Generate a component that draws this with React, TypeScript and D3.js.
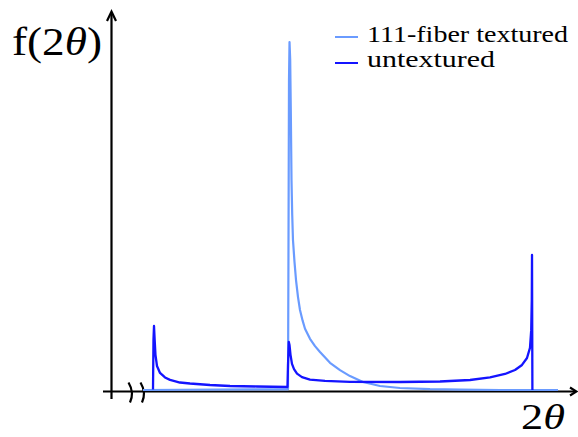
import React from "react";
import * as d3 from "d3";

const W = 578;
const H = 437;

// 2θ (arbitrary units, 0..100 along axis) and f(2θ) (arbitrary, 0..100)
const texturedX = [8.44, 39.03, 39.13, 39.24, 39.35, 39.49, 39.62, 39.77, 39.92, 40.08, 40.4, 40.72, 41.14, 41.56, 42.1, 42.62, 43.67, 44.73, 45.78, 47.89, 50.0, 52.11, 54.85, 58.44, 62.66, 68.99, 75.32, 83.76, 95.99];
const texturedY = [0, 0.2, 40, 89, 100, 95, 80.5, 60.3, 50.3, 43.1, 36.8, 31.6, 26.7, 23.0, 20.0, 17.6, 14.7, 12.6, 10.9, 7.8, 5.7, 4.0, 2.3, 1.15, 0.57, 0.23, 0.09, 0, 0];

const untexturedX = [10.55, 10.65, 10.76, 10.9, 11.07, 11.39, 12.03, 13.08, 14.14, 16.24, 18.35, 22.57, 26.79, 32.49, 38.92, 39.03, 39.2, 39.35, 39.56, 39.87, 40.3, 40.93, 41.98, 43.67, 46.84, 52.11, 62.66, 71.1, 77.43, 81.65, 84.81, 86.92, 88.4, 89.45, 90.08, 90.34, 90.46, 90.51, 90.59];
const untexturedY = [0.15, 14.4, 18.4, 14.4, 10.1, 6.9, 4.9, 3.6, 2.9, 2.15, 1.87, 1.44, 1.15, 1.0, 0.86, 7.2, 13.8, 12.9, 10.1, 7.5, 6.0, 4.7, 3.7, 3.0, 2.6, 2.36, 2.3, 2.44, 2.87, 3.6, 4.6, 5.75, 7.2, 9.2, 12.1, 17.2, 25.9, 38.8, 0];

const seriesNames = ["111-fiber textured", "untextured"];
const seriesColors = ["#6a9bff", "#1414ff"];

const SERIF = "'Liberation Serif', 'Times New Roman', Times, 'Nimbus Roman', serif";

export default function App() {
  const x = d3.scaleLinear().domain([0, 100]).range([103, 577]);
  const y = d3.scaleLinear().domain([0, 100]).range([390, 42]);

  const line = d3
    .line<[number, number]>()
    .x((d) => x(d[0]))
    .y((d) => y(d[1]));

  const tex: [number, number][] = texturedX.map((v, i) => [v, texturedY[i]]);
  const unt: [number, number][] = untexturedX.map((v, i) => [v, untexturedY[i]]);

  const axisY = 391.5;
  const axisX = 111.5;

  const breakPath = (bx: number) =>
    `M${bx - 2.5},${axisY - 9} Q${bx + 3.5},${axisY + 1} ${bx - 1},${axisY + 11}`;

  return (
    <svg
      width={W}
      height={H}
      style={{ position: "absolute", left: 0, top: 0, background: "#fff" }}
    >
      <rect x={0} y={0} width={W} height={H} fill="#fff" />
      {/* axes */}
      <g stroke="#000" strokeWidth={2.2} fill="none">
        <line x1={103} y1={axisY} x2={576} y2={axisY} />
        <polyline points={`570,387.5 576.5,${axisY} 570,395.5`} />
        <line x1={axisX} y1={399} x2={axisX} y2={12} />
        <polyline points={`107,21 ${axisX},11.5 116,21`} />
        <path d={breakPath(131)} />
        <path d={breakPath(143)} />
      </g>
      {/* curves */}
      <path d={line(tex) || ""} fill="none" stroke={seriesColors[0]} strokeWidth={2.2} strokeLinejoin="round" />
      <path d={line(unt) || ""} fill="none" stroke={seriesColors[1]} strokeWidth={2.3} strokeLinejoin="round" />
      {/* legend */}
      <g style={{ fontFamily: SERIF }} fontSize={24} fill="#000">
        <line x1={335} y1={37} x2={358} y2={37} stroke={seriesColors[0]} strokeWidth={2} />
        <text x={367} y={42} textLength={201} lengthAdjust="spacingAndGlyphs">{seriesNames[0]}</text>
        <line x1={335} y1={63} x2={358} y2={63} stroke={seriesColors[1]} strokeWidth={2} />
        <text x={367} y={67} textLength={128} lengthAdjust="spacingAndGlyphs">{seriesNames[1]}</text>
      </g>
      {/* axis labels */}
      <text x={12} y={55} style={{ fontFamily: SERIF }} fontSize={40} textLength={90} lengthAdjust="spacingAndGlyphs">
        f(2<tspan fontStyle="italic">θ</tspan>)
      </text>
      <text x={521} y={429} style={{ fontFamily: SERIF }} fontSize={35} textLength={44} lengthAdjust="spacingAndGlyphs">
        2<tspan fontStyle="italic">θ</tspan>
      </text>
    </svg>
  );
}
